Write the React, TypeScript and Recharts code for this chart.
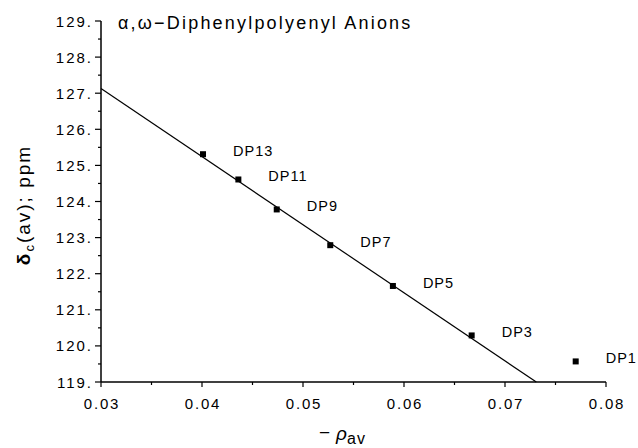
import React from 'react';
import { ScatterChart, Scatter, XAxis, YAxis, Label } from 'recharts';

// anion labels, -rho(av) and delta_c(av) in ppm
const names = ['DP13', 'DP11', 'DP9', 'DP7', 'DP5', 'DP3', 'DP1'];
const rho = [0.0401, 0.0436, 0.0474, 0.0527, 0.0589, 0.0667, 0.077];
const shift = [125.31, 124.61, 123.78, 122.79, 121.66, 120.29, 119.57];

// least-squares line end points as drawn
const fitRho = [0.03, 0.0731];
const fitShift = [127.13, 119.0];

const xTicks = [0.03, 0.035, 0.04, 0.045, 0.05, 0.055, 0.06, 0.065, 0.07, 0.075, 0.08];
const yTicks = [119, 119.5, 120, 120.5, 121, 121.5, 122, 122.5, 123, 123.5, 124, 124.5, 125, 125.5, 126, 126.5, 127, 127.5, 128, 128.5, 129];

const points = names.map((name, i) => ({ name, x: rho[i], y: shift[i] }));
const fitLine = fitRho.map((x, i) => ({ x, y: fitShift[i] }));

const FONT = '"Liberation Sans", Arial, sans-serif';

function XTick(props: any) {
  const { x, y, payload } = props;
  const v = payload.value as number;
  const major = Math.abs(v * 100 - Math.round(v * 100)) < 1e-6;
  return (
    <g>
      <line x1={x} x2={x} y1={y} y2={y + (major ? 5 : 3)} stroke="#000" strokeWidth={1.2} />
      {major && (
        <text x={x + 1} y={y + 21} textAnchor="middle" dominantBaseline="central" fontSize={15} letterSpacing={1.8} fill="#000" fontFamily={FONT}>
          {v.toFixed(2)}
        </text>
      )}
    </g>
  );
}

function YTick(props: any) {
  const { x, y, payload } = props;
  const v = payload.value as number;
  const major = Number.isInteger(v);
  return (
    <g>
      <line x1={x - (major ? 6 : 3)} x2={x} y1={y} y2={y} stroke="#000" strokeWidth={1.2} />
      {major && (
        <text x={x - 8} y={y} textAnchor="end" dominantBaseline="central" fontSize={15} letterSpacing={2} fill="#000" fontFamily={FONT}>
          {v + '.'}
        </text>
      )}
    </g>
  );
}

function PointShape(props: any) {
  const { cx, cy, payload } = props;
  return (
    <g>
      <rect x={cx - 3} y={cy - 3} width={6} height={6} fill="#000" />
      <text x={cx + 30} y={cy - 3} dominantBaseline="central" fontSize={14.5} letterSpacing={1} fill="#000" fontFamily={FONT}>
        {payload.name}
      </text>
    </g>
  );
}

export default function App() {
  return (
    <div style={{ position: 'fixed', left: 0, top: 0, width: 638, height: 448, background: '#fff' }}>
      <ScatterChart width={638} height={448} margin={{ top: 21, right: 32, bottom: 0, left: 0 }}>
        <XAxis
          type="number"
          dataKey="x"
          domain={[0.03, 0.08]}
          ticks={xTicks}
          interval={0}
          height={66}
          tickSize={0}
          tickMargin={0}
          tickLine={false}
          axisLine={{ stroke: '#000', strokeWidth: 1.5 }}
          tick={<XTick />}
        >
          <Label
            content={() => (
              <text x={319} y={440} fontSize={19} fill="#000" fontFamily={FONT}>
                <tspan dy={-1}>−</tspan>
                <tspan dx={6} dy={1} fontStyle="italic">ρ</tspan>
                <tspan dy={4} fontSize={16} letterSpacing={1}>av</tspan>
              </text>
            )}
          />
        </XAxis>
        <YAxis
          type="number"
          dataKey="y"
          domain={[119, 129]}
          ticks={yTicks}
          interval={0}
          width={101}
          tickSize={0}
          tickMargin={0}
          tickLine={false}
          axisLine={{ stroke: '#000', strokeWidth: 1.5 }}
          tick={<YTick />}
        >
          <Label
            content={() => (
              <text
                x={30}
                y={205}
                transform="rotate(-90 30 205)"
                textAnchor="middle"
                fontSize={19}
                fill="#000"
                fontFamily={FONT}
                letterSpacing={2}
              >
                <tspan fontWeight="bold">δ</tspan>
                <tspan dy={4} fontSize={13}>c</tspan>
                <tspan dy={-4}>(av); ppm</tspan>
              </text>
            )}
          />
        </YAxis>
        <Scatter
          data={fitLine}
          line={{ stroke: '#000', strokeWidth: 1.2 }}
          shape={() => <g />}
          isAnimationActive={false}
        />
        <Scatter data={points} shape={<PointShape />} isAnimationActive={false} />
      </ScatterChart>
      <div
        style={{
          position: 'absolute',
          left: 118,
          top: 13,
          fontFamily: FONT,
          fontSize: 18,
          letterSpacing: 2.2,
          lineHeight: '20px',
          color: '#000',
          whiteSpace: 'nowrap',
        }}
      >
        α,ω−Diphenylpolyenyl Anions
      </div>
    </div>
  );
}
